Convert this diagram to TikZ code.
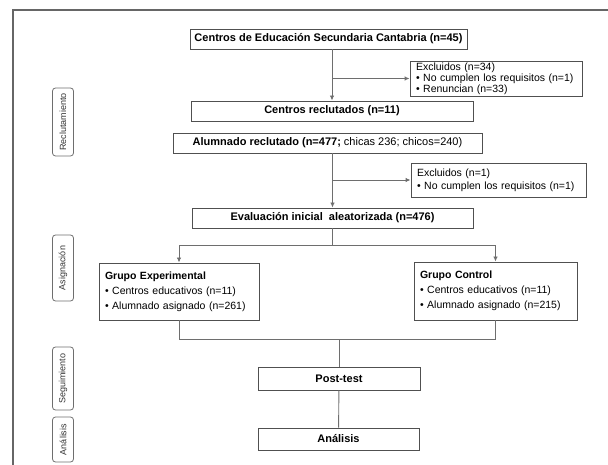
\documentclass[tikz,border=0pt]{standalone}
\usepackage{fontspec}
\setmainfont{Liberation Sans}
\usetikzlibrary{arrows.meta}
\definecolor{linegray}{RGB}{110,110,110}
\definecolor{boxgray}{RGB}{80,80,80}
\tikzset{>={Latex[length=5pt,width=4.5pt]}}
\tikzset{
    box/.style={draw=boxgray, line width=0.9pt, rectangle, inner sep=0pt,
        font=\fontsize{11}{12}\selectfont},
    bbox/.style={box, font=\fontsize{11}{12}\selectfont\bfseries},
    listbox/.style={box, align=left, inner xsep=6pt, inner ysep=1.5pt, text width=#1,
        font=\fontsize{10.5}{10.8}\selectfont},
    phase/.style={draw=linegray, rounded corners=3pt, line width=0.8pt,
        rotate=90, minimum height=21pt, inner sep=0pt,
        font=\fontsize{9}{10}\selectfont, text=black!80},
    conn/.style={draw=linegray, line width=0.9pt}
}
\newcommand{\phase}[4]{
    \node[phase, minimum width=#4] (#1) at (63,#3) {#2};
}

\begin{document}
\begin{tikzpicture}[x=1pt,y=-1pt]
            \useasboundingbox (0,0) rectangle (608,465);
            \draw[conn, draw=black!60, line width=1.2pt] (13,465) -- (13,10) -- (608,10);
            % side phases
            \phase{fRec}{Reclutamiento}{122}{68pt}
            \phase{fAsig}{Asignación}{268}{66pt}
            \phase{fSeg}{Seguimiento}{378.5}{63pt}
            \phase{fAna}{Análisis}{439.5}{45pt}
            % main boxes
            \node[bbox, minimum width=277pt, minimum height=20pt] (centros) at (328.5,39)
            {Centros de Educación Secundaria Cantabria (n=45)};
            \node[listbox=160pt, minimum height=35pt] (excl1) at (496,78.5)
            {Excluidos (n=34)\\ • No cumplen los requisitos (n=1)\\ • Renuncian (n=33)};
            \node[bbox, minimum width=282pt, minimum height=20pt] (reclut) at (332,111)
            {Centros reclutados (n=11)};
            \node[box, minimum width=309pt, minimum height=20pt] (alumn) at (327.5,143)
            {\textbf{Alumnado reclutado (n=477;} chicas 236; chicos=240)};
            \node[listbox=163pt, minimum height=34pt, font=\fontsize{10.5}{13}\selectfont] (excl2) at (498.5,180)
            {Excluidos (n=1)\\ • No cumplen los requisitos (n=1)};
            \node[bbox, minimum width=281pt, minimum height=20pt] (eval) at (332.5,218)
            {Evaluación inicial~ aleatorizada (n=476)};
            \node[listbox=148pt, minimum height=57pt, font=\fontsize{10.5}{15}\selectfont] (gexp) at (179,291.5)
            {\textbf{Grupo Experimental}\\ • Centros educativos (n=11)\\ • Alumnado asignado (n=261)};
            \node[listbox=151pt, minimum height=58pt, font=\fontsize{10.5}{15}\selectfont] (gcon) at (495.5,291)
            {\textbf{Grupo Control}\\ • Centros educativos (n=11)\\ • Alumnado asignado (n=215)};
            \node[bbox, minimum width=162pt, minimum height=23pt] (post) at (339,378.5)
            {Post-test};
            \node[bbox, minimum width=161pt, minimum height=22pt] (anal) at (338.5,439)
            {Análisis};
            % connectors
            \draw[conn,->] (centros.south -| reclut) -- (reclut.north);
            \draw[conn,->] (excl1.west -| reclut) -- (excl1.west);
            \draw[conn,->] (alumn.south -| eval) -- (eval.north);
            \draw[conn,->] (excl2.west -| eval) -- (excl2.west);
            \path (eval.south) ++(0,17) coordinate (split);
            \draw[conn] (eval.south) -- (split);
            \draw[conn,->] (split) -| (gexp.north);
            \draw[conn,->] (split) -| (gcon.north);
            \path (post.north) ++(0,-27) coordinate (join);
            \draw[conn] (gexp.south) |- (join) -| (gcon.south);
            \draw[conn] (join) -- (post.north);
            \draw[conn] (post) -- (anal);
        \end{tikzpicture}
\end{document}
